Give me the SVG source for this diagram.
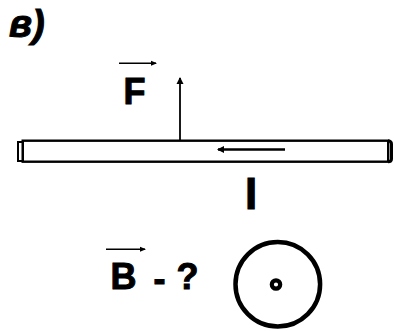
<svg xmlns="http://www.w3.org/2000/svg" width="394" height="331" viewBox="0 0 394 331">
<style>
.lbl{font-family:"Liberation Sans",Arial,sans-serif;font-weight:bold;fill:#000;stroke:#000;stroke-width:1}
.ln{stroke:#000;fill:none}
</style>
<defs>
<marker id="ah" markerWidth="6" markerHeight="6" refX="5" refY="3" orient="auto" markerUnits="userSpaceOnUse">
<path d="M0,0.5 L6,3 L0,5.5 Z" fill="#000"/>
</marker>
<marker id="ah2" markerWidth="8" markerHeight="8" refX="6" refY="4" orient="auto" markerUnits="userSpaceOnUse">
<path d="M0,0.5 L7,4 L0,7.5 Z" fill="#000"/>
</marker>
</defs>
<rect width="394" height="331" fill="#fff"/>
<g id="title"><text class="lbl" x="9" y="37" font-size="38" font-style="italic">в)</text></g>
<g id="wire">
<rect x="22.7" y="140.7" width="365.5" height="21" class="ln" stroke-width="2.4" stroke="#1a1a1a"/>
<rect x="18" y="142" width="5" height="19" class="ln" stroke-width="2"/>
<path d="M388,140.7 Q391.5,141 391.5,144 L391.5,159 Q391.5,161.7 388,161.7" class="ln" stroke-width="3"/>
</g>
<g id="force">
<text class="lbl" x="123.5" y="104" font-size="36">F</text>
<line x1="119" y1="63.3" x2="156" y2="63.3" class="ln" stroke-width="1.6" marker-end="url(#ah)"/>
</g>
<g id="current">
<text class="lbl" x="251" y="208.5" font-size="44" text-anchor="middle">I</text>
</g>
<g id="field">
<text class="lbl" x="110.5" y="289" font-size="36">B</text>
<line x1="106" y1="249.3" x2="145" y2="249.3" class="ln" stroke-width="1.6" marker-end="url(#ah)"/>
<text class="lbl" x="153.5" y="290.5" font-size="36">-</text>
<text class="lbl" x="176.5" y="289" font-size="36">?</text>
<circle cx="277.8" cy="284.2" r="42.3" class="ln" stroke-width="4.5"/>
<circle cx="276" cy="284.5" r="4.2" class="ln" stroke-width="4.2"/>
</g>
<g id="connectors">
<line x1="180" y1="140" x2="180" y2="78" class="ln" stroke-width="1.8" marker-end="url(#ah2)"/>
<line x1="285" y1="149.5" x2="218" y2="149.5" class="ln" stroke-width="2.4" marker-end="url(#ah2)"/>
</g>
</svg>
